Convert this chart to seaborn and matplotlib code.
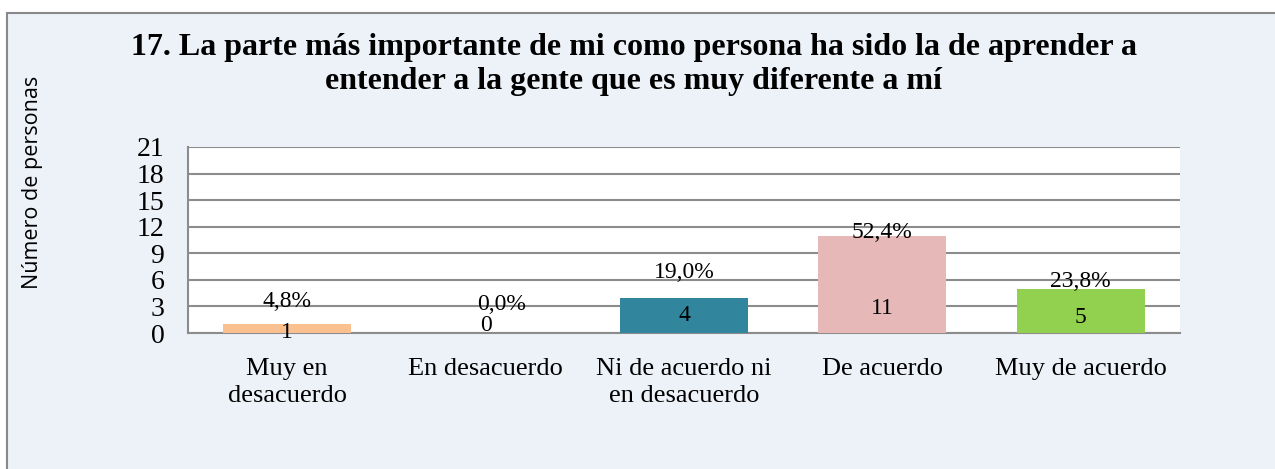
import matplotlib
matplotlib.use("Agg")
import matplotlib.pyplot as plt
import matplotlib.patches as mpatches
import seaborn as sns
import pandas as pd

# ---- data ----
categories = ["Muy en\ndesacuerdo", "En desacuerdo", "Ni de acuerdo ni\nen desacuerdo",
              "De acuerdo", "Muy de acuerdo"]
counts = [1, 0, 4, 11, 5]
percent_labels = ["4,8%", "0,0%", "19,0%", "52,4%", "23,8%"]
y_ticks = [0, 3, 6, 9, 12, 15, 18, 21]
title = ("17. La parte más importante de mi como persona ha sido la de aprender a\n"
         "entender a la gente que es muy diferente a mí")
y_label = "Número de personas"

# ---- style ----
bar_colors = ["#FAC090", "#E6E6E6", "#31859C", "#E6B9B8", "#92D050"]
bg = "#EDF2F9"
grid_col = "#8C8C8C"
pct_offset = [2.6, 3.2, 2.8, 0.3, 0.8]    # label placement above bar top (data units)
pct_xshift = [0, 0.08, 0, 0, 0]
cnt_y = [0.1, 0.9, 2.0, 2.8, 1.7]

sns.set_theme(style="white")
plt.rcParams["font.family"] = ["Liberation Serif", "DejaVu Serif"]
plt.rcParams["text.color"] = "black"
plt.rcParams["xtick.color"] = "black"
plt.rcParams["ytick.color"] = "black"

W, H = 1275, 469
fig = plt.figure(figsize=(W / 100, H / 100), dpi=100, facecolor="white")

# outer chart area box
fig.patches.append(mpatches.Rectangle((7 / W, -0.1), 1.2, 1 - 13 / H + 0.1,
                                      transform=fig.transFigure, facecolor=bg,
                                      edgecolor="#888888", linewidth=1.5, zorder=-10))

ax = fig.add_axes([188 / W, 1 - 333 / H, (1180 - 188) / W, (333 - 147) / H])
ax.set_facecolor("white")

df = pd.DataFrame({"cat": categories, "n": counts})
sns.barplot(data=df, x="cat", y="n", hue="cat", palette=bar_colors, width=0.645,
            legend=False, ax=ax, saturation=1, edgecolor="none", linewidth=0, zorder=3)

ax.set_ylim(0, 21)
ax.set_xlim(-0.5, len(categories) - 0.5)
ax.set_yticks(y_ticks)
ax.set_yticklabels([str(t) for t in y_ticks], fontsize=20)
ax.tick_params(axis="y", length=0, pad=17)
ax.tick_params(axis="x", length=0, pad=18, labelsize=19)
ax.set_xlabel("")
ax.set_ylabel("")
for lab in ax.get_xticklabels():
    lab.set_linespacing(1.3)

ax.grid(axis="y", color=grid_col, linewidth=1.5, zorder=0)
ax.set_axisbelow(True)
for s in ["top", "right"]:
    ax.spines[s].set_visible(False)
ax.spines["left"].set_color(grid_col)
ax.spines["left"].set_linewidth(1.5)
ax.spines["bottom"].set_color(grid_col)
ax.spines["bottom"].set_linewidth(1.5)

for i, (v, p) in enumerate(zip(counts, percent_labels)):
    ax.text(i + pct_xshift[i], v + pct_offset[i], p, ha="center", va="center",
            fontsize=17, color="black", zorder=5)
    ax.text(i, cnt_y[i], str(v), ha="center", va="center", fontsize=17,
            color="black", zorder=5)

fig.text(0.497, 1 - 64.5 / H, title, ha="center", va="center", fontsize=23,
         fontweight="bold", linespacing=1.22)
fig.text(33 / W, 1 - 182 / H, y_label, rotation=90, ha="center", va="center",
         fontsize=15.5, family=["Open Sans", "DejaVu Sans"])

fig.savefig("out.png", dpi=100, facecolor="white")
